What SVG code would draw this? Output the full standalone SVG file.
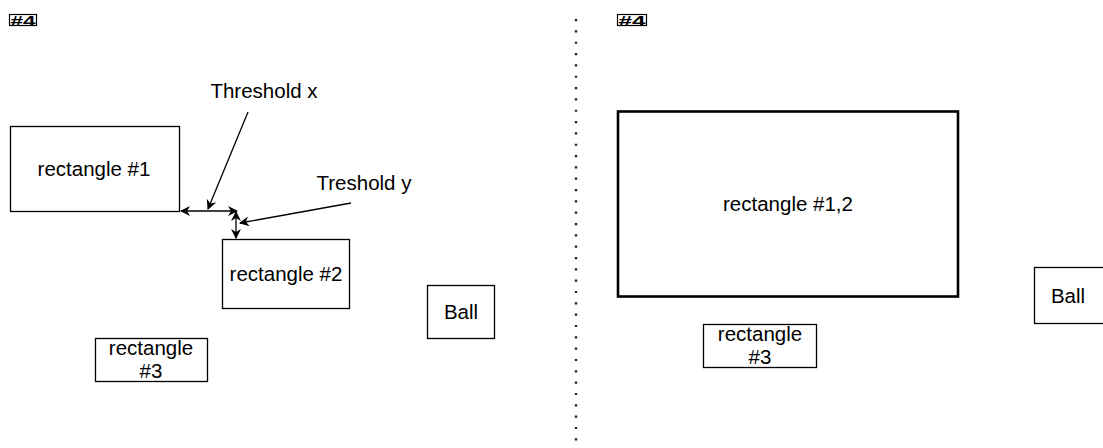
<svg xmlns="http://www.w3.org/2000/svg" width="1103" height="448" viewBox="0 0 1103 448">
<defs>
<marker id="ah" viewBox="0 0 10 10" refX="9" refY="5" markerWidth="10" markerHeight="10" markerUnits="userSpaceOnUse" orient="auto-start-reverse">
<path d="M0,0 L10,5 L0,10 L3,5 Z" fill="#000"/>
</marker>
</defs>
<style>
.box{fill:#fff;stroke:#000;stroke-width:1.3}
.big{fill:#fff;stroke:#000;stroke-width:2.6}
.t{font-family:"Liberation Sans",Arial,sans-serif;font-size:20.5px;fill:#000;text-anchor:middle}
.tag{font-family:"Liberation Sans",Arial,sans-serif;font-size:14px;font-weight:bold;fill:#000}
.tagbox{fill:none;stroke:#000;stroke-width:1.2}
.c{fill:none;stroke:#000;stroke-width:1.3}
</style>
<rect width="1103" height="448" fill="#fff"/>
<g id="tag-left">
<rect class="tagbox" x="9.5" y="14.5" width="27" height="11"/>
<text class="tag" x="10.5" y="25.5" textLength="25" lengthAdjust="spacingAndGlyphs">#4</text>
</g>
<g id="tag-right">
<rect class="tagbox" x="617.5" y="14.5" width="29" height="11"/>
<text class="tag" x="618.5" y="25.5" textLength="27" lengthAdjust="spacingAndGlyphs">#4</text>
</g>
<g id="divider">
<line x1="576" y1="19" x2="576" y2="441" stroke="#222" stroke-width="2.4" stroke-dasharray="2.2 9.13"/>
</g>
<g id="rect1">
<rect class="box" x="10.5" y="126.5" width="169" height="85"/>
<text class="t" x="94" y="176">rectangle #1</text>
</g>
<g id="rect2">
<rect class="box" x="222.5" y="239.5" width="127" height="69"/>
<text class="t" x="286" y="281">rectangle #2</text>
</g>
<g id="ball-left">
<rect class="box" x="427.5" y="285.5" width="67" height="53"/>
<text class="t" x="461" y="319">Ball</text>
</g>
<g id="rect3-left">
<rect class="box" x="95.5" y="338.5" width="112" height="43"/>
<text class="t" x="151" y="355">rectangle</text>
<text class="t" x="151" y="378">#3</text>
</g>
<g id="rect12">
<rect class="big" x="618" y="111.5" width="340" height="185"/>
<text class="t" x="788" y="211">rectangle #1,2</text>
</g>
<g id="rect3-right">
<rect class="box" x="703.5" y="324.5" width="113" height="43"/>
<text class="t" x="760" y="341">rectangle</text>
<text class="t" x="760" y="364">#3</text>
</g>
<g id="ball-right">
<rect class="box" x="1034.5" y="267.5" width="80" height="56"/>
<text class="t" x="1068" y="303">Ball</text>
</g>
<g id="label-threshold-x">
<text class="t" x="264" y="98">Threshold x</text>
</g>
<g id="label-threshold-y">
<text class="t" x="364" y="190">Treshold y</text>
</g>
<g id="connectors">
<line class="c" x1="181" y1="211" x2="237" y2="211" marker-start="url(#ah)" marker-end="url(#ah)"/>
<line class="c" x1="236" y1="212" x2="236" y2="238" marker-start="url(#ah)" marker-end="url(#ah)"/>
<line class="c" x1="248" y1="112" x2="208" y2="209" marker-end="url(#ah)"/>
<line class="c" x1="351" y1="203" x2="240" y2="223" marker-end="url(#ah)"/>
</g>
</svg>
